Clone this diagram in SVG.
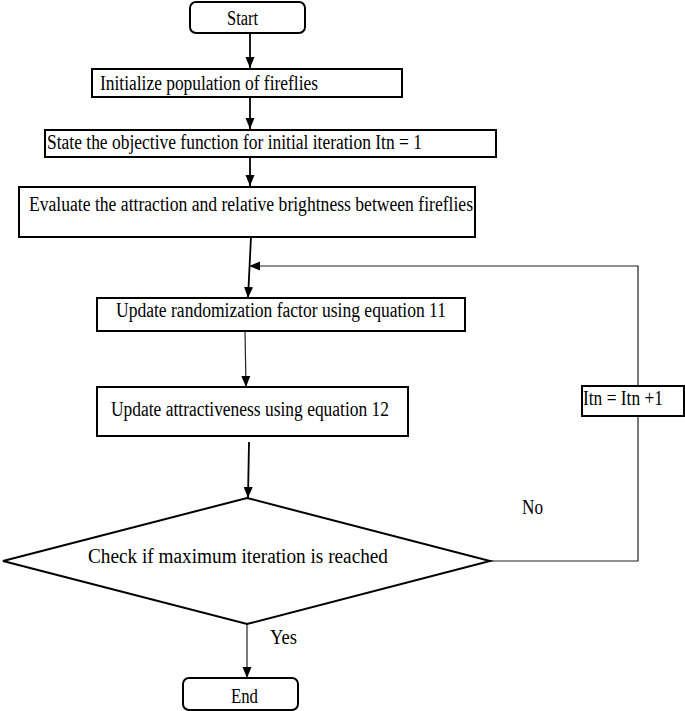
<svg xmlns="http://www.w3.org/2000/svg" width="685" height="711" viewBox="0 0 685 711">
<style>
text{font-family:"Liberation Serif","Times New Roman","DejaVu Serif",serif;font-size:20.5px;fill:#000}
.box{fill:#fff;stroke:#000;stroke-width:2}
.c{fill:none;stroke:#000;stroke-width:1.8}
.t{fill:none;stroke:#222;stroke-width:1.2}
</style>
<defs>
<marker id="ah" markerUnits="userSpaceOnUse" markerWidth="12" markerHeight="12" viewBox="0 0 12 12" refX="11" refY="6" orient="auto">
<path d="M0,1.5 L11,6 L0,10.5 Z" fill="#000"/>
</marker>
</defs>
<g id="connectors">
<line class="c" x1="250" y1="33" x2="250" y2="68" marker-end="url(#ah)"/>
<line class="c" x1="250" y1="97" x2="250" y2="129" marker-end="url(#ah)"/>
<line class="c" x1="250" y1="157" x2="250" y2="186" marker-end="url(#ah)"/>
<line class="c" x1="251" y1="237" x2="248" y2="298" marker-end="url(#ah)"/>
<line class="t" x1="245" y1="331" x2="246" y2="387" marker-end="url(#ah)"/>
<line class="c" x1="249" y1="442" x2="248" y2="498" marker-end="url(#ah)"/>
<line class="t" x1="247" y1="624" x2="247" y2="678" marker-end="url(#ah)"/>
<polyline class="t" points="490,561 638,561 638,416"/>
<polyline class="t" points="638,386 638,266 249,266" marker-end="url(#ah)"/>
<text x="522" y="514" textLength="21" lengthAdjust="spacingAndGlyphs">No</text>
<text x="270" y="644" textLength="27" lengthAdjust="spacingAndGlyphs">Yes</text>
</g>
<g id="start">
<rect class="box" x="190" y="2" width="115" height="31" rx="6"/>
<text x="227" y="25" textLength="31" lengthAdjust="spacingAndGlyphs">Start</text>
</g>
<g id="init">
<rect class="box" x="92" y="69" width="310" height="28"/>
<text x="100" y="90" textLength="218" lengthAdjust="spacingAndGlyphs">Initialize population of fireflies</text>
</g>
<g id="state">
<rect class="box" x="45" y="130" width="451" height="27"/>
<text x="47" y="149" textLength="375" lengthAdjust="spacingAndGlyphs">State the objective function for initial iteration Itn = 1</text>
</g>
<g id="evaluate">
<rect class="box" x="19" y="187" width="456" height="50"/>
<text x="29" y="211" textLength="444" lengthAdjust="spacingAndGlyphs">Evaluate the attraction and relative brightness between fireflies</text>
</g>
<g id="randomization">
<rect class="box" x="97" y="298" width="368" height="33"/>
<text x="116" y="317" textLength="330" lengthAdjust="spacingAndGlyphs">Update randomization factor using equation 11</text>
</g>
<g id="attractiveness">
<rect class="box" x="97" y="387" width="311" height="49"/>
<text x="111" y="416" textLength="278" lengthAdjust="spacingAndGlyphs">Update attractiveness using equation 12</text>
</g>
<g id="check">
<polygon class="box" points="247,498 490,561 247,624 3,561"/>
<text x="88" y="563" textLength="300" lengthAdjust="spacingAndGlyphs">Check if maximum iteration is reached</text>
</g>
<g id="increment">
<rect class="box" x="582" y="386" width="102" height="30"/>
<text x="583" y="405" textLength="80" lengthAdjust="spacingAndGlyphs">Itn = Itn +1</text>
</g>
<g id="end">
<rect class="box" x="183" y="678" width="115" height="32" rx="6"/>
<text x="231" y="703" textLength="27" lengthAdjust="spacingAndGlyphs">End</text>
</g>
</svg>
